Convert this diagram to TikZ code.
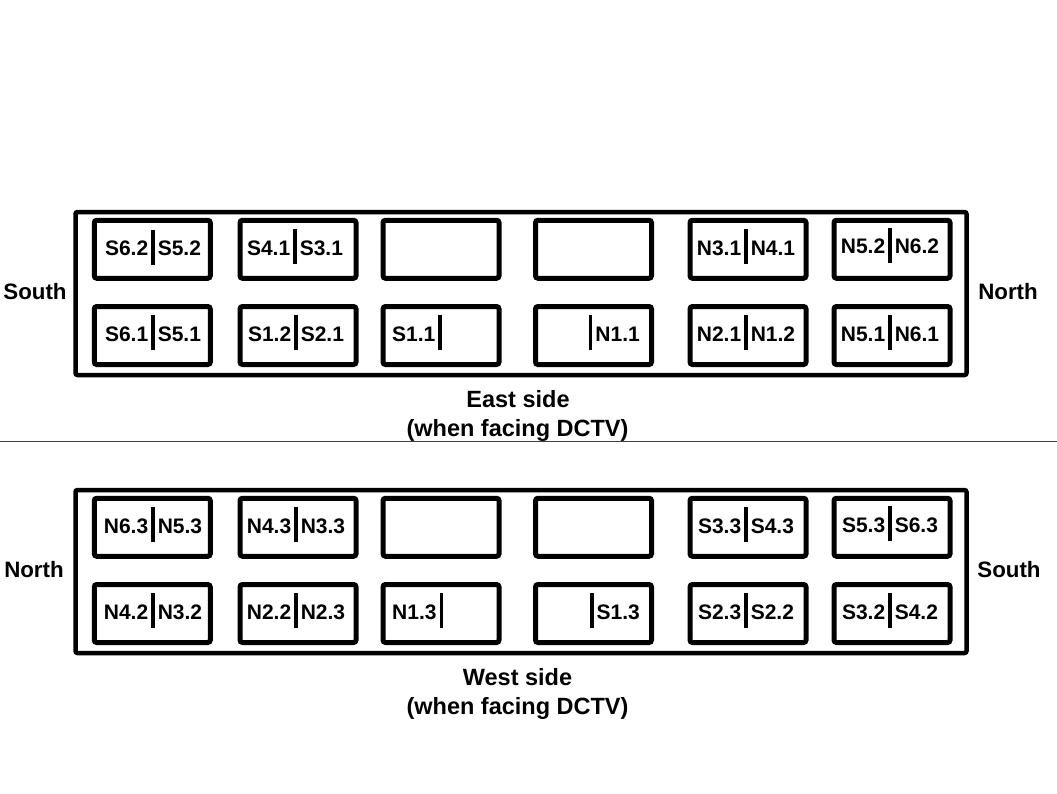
\documentclass[tikz,border=0pt]{standalone}
\usepackage{fontspec}
\setmainfont{Liberation Sans}
\newcommand\sepbar{\hspace{3pt}\rule[-9pt]{3.6pt}{35pt}\hspace{3pt}}
\begin{document}
\begin{tikzpicture}[x=1pt,y=-1pt,
  panel/.style={draw,line width=4.5pt,rounded corners=2pt,minimum width=891pt,minimum height=163pt,inner sep=0pt},
  slot/.style={draw,line width=5pt,rounded corners=2.5pt,minimum width=116pt,minimum height=58pt,inner sep=0pt},
  lbl/.style={font=\fontsize{21}{24}\bfseries\selectfont,anchor=base,inner sep=0pt},
  side/.style={font=\fontsize{22.3}{26}\bfseries\selectfont,anchor=base,inner sep=0pt},
  captext/.style={font=\fontsize{23.5}{28}\bfseries\selectfont,anchor=base,inner sep=0pt}]
\useasboundingbox (0,0) rectangle (1057,793);

% ---------- East side panel ----------
\node[panel] (eastpanel) at (521,293.5) {};
\node[slot] (e11) at (152.25,249.25) {};
\node[slot] (e12) at (298,249.25) {};
\node[slot] (e13) at (441,249.25) {};
\node[slot] (e14) at (593.5,249.25) {};
\node[slot] (e15) at (748,249.25) {};
\node[slot] (e16) at (892,249.25) {};
\node[slot] (e21) at (152.25,335.5) {};
\node[slot] (e22) at (298,335.5) {};
\node[slot] (e23) at (441,335.5) {};
\node[slot] (e24) at (593.5,335.5) {};
\node[slot] (e25) at (748,335.5) {};
\node[slot] (e26) at (892,335.5) {};

\node[lbl] (le11) at (153,255.5) {S6.2\sepbar S5.2};
\node[lbl] (le12) at (295,255) {S4.1\sepbar S3.1};
\node[lbl] (le15) at (746,255) {N3.1\sepbar N4.1};
\node[lbl] (le16) at (890,253.5) {N5.2\sepbar N6.2};
\node[lbl] (le21) at (153,341) {S6.1\sepbar S5.1};
\node[lbl] (le22) at (296,341) {S1.2\sepbar S2.1};
\node[lbl,anchor=base west] (le23) at (392,341) {S1.1\sepbar};
\node[lbl,anchor=base east] (le24) at (640,341) {\sepbar N1.1};
\node[lbl] (le25) at (746,341) {N2.1\sepbar N1.2};
\node[lbl] (le26) at (890,341) {N5.1\sepbar N6.1};

\node[side] (esouth) at (35,299.5) {South};
\node[side] (enorth) at (1008,299.5) {North};
\node[captext] (ecap1) at (518,407) {East side};
\node[captext] (ecap2) at (517.5,436.5) {(when facing DCTV)};

% ---------- separator ----------
\coordinate (sepL) at (0,441);
\coordinate (sepR) at (1057,441);
\draw[black!75,line width=1pt] (sepL) -- (sepR);

% ---------- West side panel ----------
\node[panel] (westpanel) at (521,571.5) {};
\node[slot] (w11) at (152.25,527.25) {};
\node[slot] (w12) at (298,527.25) {};
\node[slot] (w13) at (441,527.25) {};
\node[slot] (w14) at (593.5,527.25) {};
\node[slot] (w15) at (748,527.25) {};
\node[slot] (w16) at (892,527.25) {};
\node[slot] (w21) at (152.25,613.5) {};
\node[slot] (w22) at (298,613.5) {};
\node[slot] (w23) at (441,613.5) {};
\node[slot] (w24) at (593.5,613.5) {};
\node[slot] (w25) at (748,613.5) {};
\node[slot] (w26) at (892,613.5) {};

\node[lbl] (lw11) at (153,533) {N6.3\sepbar N5.3};
\node[lbl] (lw12) at (296,533) {N4.3\sepbar N3.3};
\node[lbl] (lw15) at (746,533) {S3.3\sepbar S4.3};
\node[lbl] (lw16) at (890,532) {S5.3\sepbar S6.3};
\node[lbl] (lw21) at (153,619) {N4.2\sepbar N3.2};
\node[lbl] (lw22) at (296,619) {N2.2\sepbar N2.3};
\node[lbl,anchor=base west] (lw23) at (392,619) {N1.3\sepbar};
\node[lbl,anchor=base east] (lw24) at (640,619) {\sepbar S1.3};
\node[lbl] (lw25) at (746,619) {S2.3\sepbar S2.2};
\node[lbl] (lw26) at (890,619) {S3.2\sepbar S4.2};

\node[side] (wnorth) at (34,577.5) {North};
\node[side] (wsouth) at (1009,577.5) {South};
\node[captext] (wcap1) at (517.5,685) {West side};
\node[captext] (wcap2) at (517.5,714.5) {(when facing DCTV)};
\end{tikzpicture}
\end{document}
